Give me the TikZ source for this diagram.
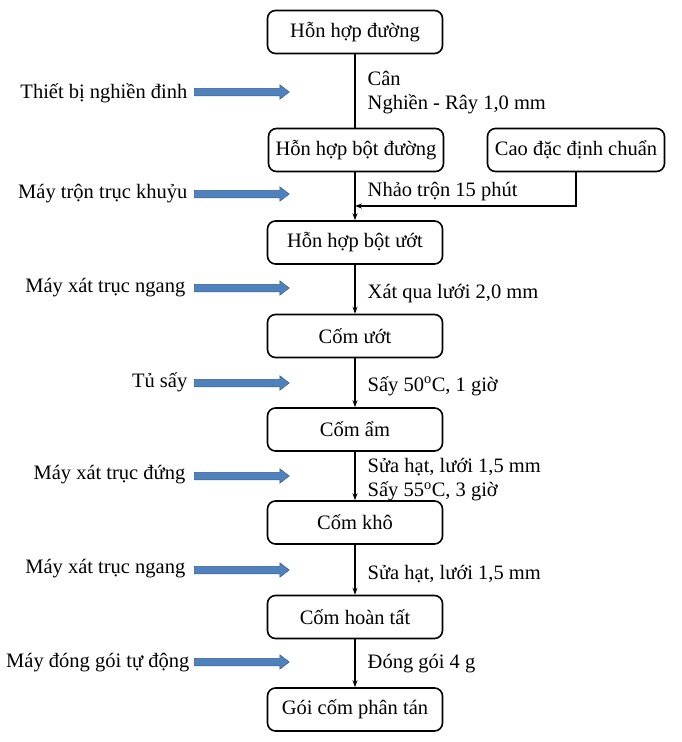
\documentclass[tikz,border=0pt]{standalone}
\usepackage{fontspec}
\setmainfont{Liberation Serif}
\usetikzlibrary{arrows.meta, shapes.arrows}
\definecolor{arrowblue}{RGB}{79,129,189}
\definecolor{arrowedge}{RGB}{56,93,138}
\tikzset{>={Stealth[length=7pt,width=5pt]}}
\tikzset{
    stepbox/.style={draw, line width=1.6pt, rounded corners=8pt, minimum width=175pt, minimum height=43pt, inner sep=0pt},
    machine/.style={anchor=east, inner sep=0pt},
    note/.style={anchor=west, align=left, inner sep=0pt},
    machinearrow/.style={single arrow, draw=arrowedge, fill=arrowblue, line width=0.5pt, minimum height=95pt, inner xsep=0pt, inner ysep=3.5pt, single arrow head extend=3.5pt, single arrow tip angle=75, anchor=west}
}

\begin{document}
\begin{tikzpicture}[x=1pt, y=-1pt, font=\fontsize{20.5pt}{24pt}\selectfont, line width=1.4pt]
    \useasboundingbox (0,0) rectangle (681,742);
    % process boxes
    \node [stepbox] (b1) at (355,32) {Hỗn hợp đường};
    \node [stepbox] (b2) at (356,150) {Hỗn hợp bột đường};
    \node [stepbox, minimum width=177pt] (cao) at (576,150) {Cao đặc định chuẩn};
    \node [stepbox] (b4) at (355,242.5) {Hỗn hợp bột ướt};
    \node [stepbox] (b5) at (355,336) {Cốm ướt};
    \node [stepbox] (b6) at (355,429.5) {Cốm ẩm};
    \node [stepbox] (b7) at (355,522.5) {Cốm khô};
    \node [stepbox] (b8) at (355,617) {Cốm hoàn tất};
    \node [stepbox] (b9) at (355,709.5) {Gói cốm phân tán};
    \coordinate (join) at (355,206);
    % connectors
    \draw (b1.south) -- (b1.south |- b2.north);
    \draw [->] (b2.south -| b1.south) -- (b1.south |- b4.north);
    \draw [->] (cao.south) |- (join);
    \draw [->] (b4) -- (b5);
    \draw [->] (b5) -- (b6);
    \draw [->] (b6) -- (b7);
    \draw [->] (b7) -- (b8);
    \draw [->] (b8) -- (b9);
    % operating conditions
    \node [note] (n1) at (367,93) {Cân\\Nghiền - Rây 1,0 mm};
    \node [note] (n2) at (367,192) {Nhảo trộn 15 phút};
    \node [note] (n3) at (367,294) {Xát qua lưới 2,0 mm};
    \node [note] (n4) at (367,386) {Sấy 50\textsuperscript{o}C, 1 giờ};
    \node [note] (n5) at (367,480) {Sửa hạt, lưới 1,5 mm\\Sấy 55\textsuperscript{o}C, 3 giờ};
    \node [note] (n6) at (367,574) {Sửa hạt, lưới 1,5 mm};
    \node [note] (n7) at (367,664) {Đóng gói 4 g};
    % equipment
    \node [machine] (m1) at (188,93) {Thiết bị nghiền đinh};
    \node [machine] (m2) at (188,194) {Máy trộn trục khuỷu};
    \node [machine] (m3) at (186,288) {Máy xát trục ngang};
    \node [machine] (m4) at (188,382) {Tủ sấy};
    \node [machine] (m5) at (186,475) {Máy xát trục đứng};
    \node [machine] (m6) at (186,569) {Máy xát trục ngang};
    \node [machine] (m7) at (190,663) {Máy đóng gói tự động};
    \node [machinearrow] (a1) at (194,92) {};
    \node [machinearrow] (a2) at (194,194) {};
    \node [machinearrow] (a3) at (194,288) {};
    \node [machinearrow] (a4) at (194,383) {};
    \node [machinearrow] (a5) at (194,476) {};
    \node [machinearrow] (a6) at (194,570) {};
    \node [machinearrow] (a7) at (194,662) {};
\end{tikzpicture}
\end{document}
